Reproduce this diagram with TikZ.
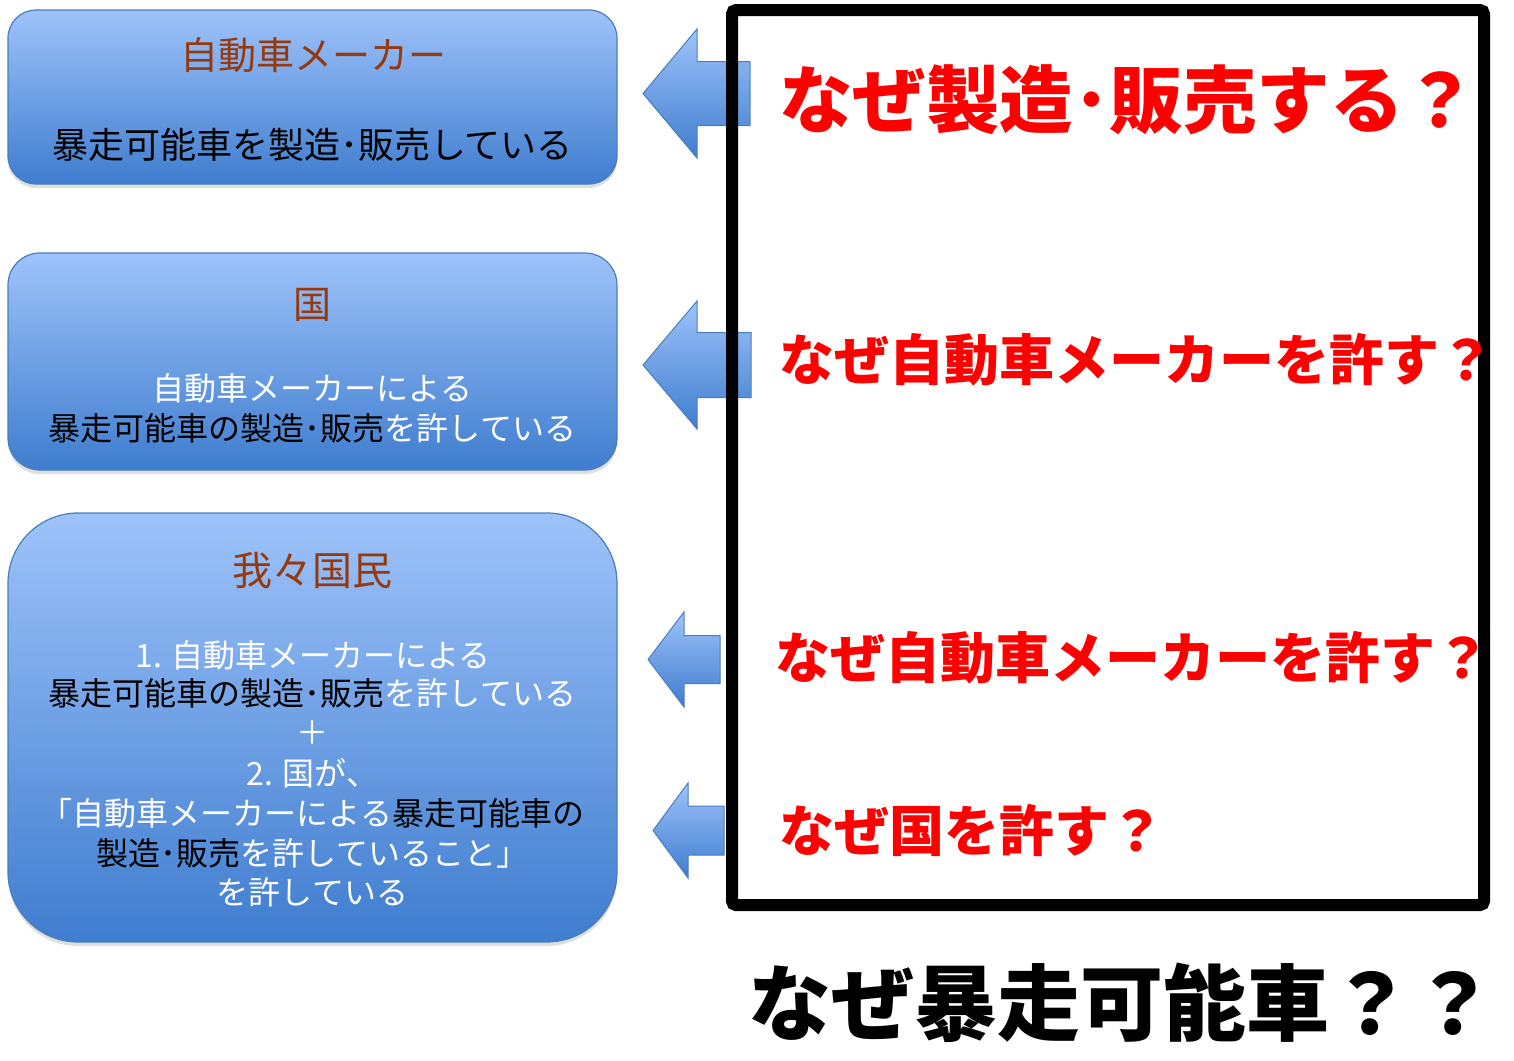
\documentclass[tikz,border=0pt]{standalone}
\usepackage{fontspec}
\setmainfont{Noto Sans CJK JP}
\usetikzlibrary{shadows}
\definecolor{gtop}{HTML}{9EC3FA}
\definecolor{gbot}{HTML}{3F7DCF}
\definecolor{edgeblue}{HTML}{4A7EBB}
\definecolor{titlebrown}{HTML}{953A0F}
\definecolor{qred}{HTML}{FF0000}
\tikzset{
  panel/.style={draw=edgeblue, line width=1.2pt, top color=gtop, bottom color=gbot,
    rectangle, minimum width=609pt, inner sep=0pt,
    drop shadow={shadow xshift=0pt, shadow yshift=-4pt, opacity=0.25}},
  arrowsty/.style={draw=edgeblue, line width=1pt, top color=gtop, bottom color=gbot,
    line join=miter},
  ttl/.style={text=titlebrown, inner sep=0pt, anchor=center},
  bodyline/.style={inner sep=0pt, anchor=center, font=\fontsize{32}{32}\selectfont},
  why/.style={text=qred, inner sep=0pt, anchor=west, font=\bfseries\fontsize{55}{55}\selectfont},
}
\newcommand\blkarrow[6]{%
  \draw[arrowsty] ({#1},{#2}) -- ({#3},{#2-#4}) -- ({#3},{#2-#5}) -- ({#6},{#2-#5})
    -- ({#6},{#2+#5}) -- ({#3},{#2+#5}) -- ({#3},{#2+#4}) -- cycle;}
\begin{document}
\begin{tikzpicture}[x=1pt,y=-1pt]
\useasboundingbox (0,0) rectangle (1514,1060);
% panels
\node[panel, minimum height=174pt, rounded corners=28pt] (b1) at (312.5,97) {};
\node[panel, minimum height=217pt, rounded corners=32pt] (b2) at (312.5,361.5) {};
\node[panel, minimum height=429pt, rounded corners=70pt] (b3) at (312.5,727.5) {};
% panel 1 text
\node[ttl, font=\fontsize{38}{38}\selectfont] (t1) at (313,55) {自動車メーカー};
\node[inner sep=0pt, font=\fontsize{36}{36}\selectfont] (l1) at (312.5,145) {暴走可能車を製造･販売している};
% panel 2 text
\node[ttl, font=\fontsize{38}{38}\selectfont] (t2) at (312.5,305) {国};
\node[bodyline, text=white] (l2a) at (312.5,388) {自動車メーカーによる};
\node[bodyline] (l2b) at (312.5,428) {\textcolor{black}{暴走可能車の製造･販売}\textcolor{white}{を許している}};
% panel 3 text
\node[ttl, font=\fontsize{40}{40}\selectfont] (t3) at (312.5,571) {我々国民};
\node[bodyline, text=white] (l3a) at (313,655) {1. 自動車メーカーによる};
\node[bodyline] (l3b) at (312.5,693) {\textcolor{black}{暴走可能車の製造･販売}\textcolor{white}{を許している}};
\node[bodyline, text=white] (l3c) at (312.5,733) {＋};
\node[bodyline, text=white] (l3d) at (312.5,773) {2. 国が、};
\node[bodyline] (l3e) at (312.5,813) {\textcolor{white}{「自動車メーカーによる}\textcolor{black}{暴走可能車の}};
\node[bodyline] (l3f) at (312.5,853) {\textcolor{black}{製造･販売}\textcolor{white}{を許していること」}};
\node[bodyline, text=white] (l3g) at (312.5,892) {を許している};
% block arrows
\blkarrow{643}{93.5}{697}{64.5}{32}{750}
\blkarrow{643}{365}{697}{64}{32.5}{751}
\blkarrow{648}{659.5}{684}{47.5}{24}{720}
\blkarrow{653}{830.5}{688}{47.5}{24.5}{724}
% question frame
\draw[line width=12pt, rounded corners=4pt] (732,10) rectangle (1484,905);
\node[why, font=\bfseries\fontsize{73.5}{73.5}\selectfont] (q1) at (779,100) {なぜ製造･販売する？};
\node[why] (q2) at (779,360) {なぜ自動車メーカーを許す？};
\node[why] (q3) at (775,658) {なぜ自動車メーカーを許す？};
\node[why] (q4) at (779,830) {なぜ国を許す？};
\node[inner sep=0pt, anchor=west, font=\bfseries\fontsize{83}{83}\selectfont] (q5) at (748,1003) {なぜ暴走可能車？？};
\end{tikzpicture}
\end{document}
